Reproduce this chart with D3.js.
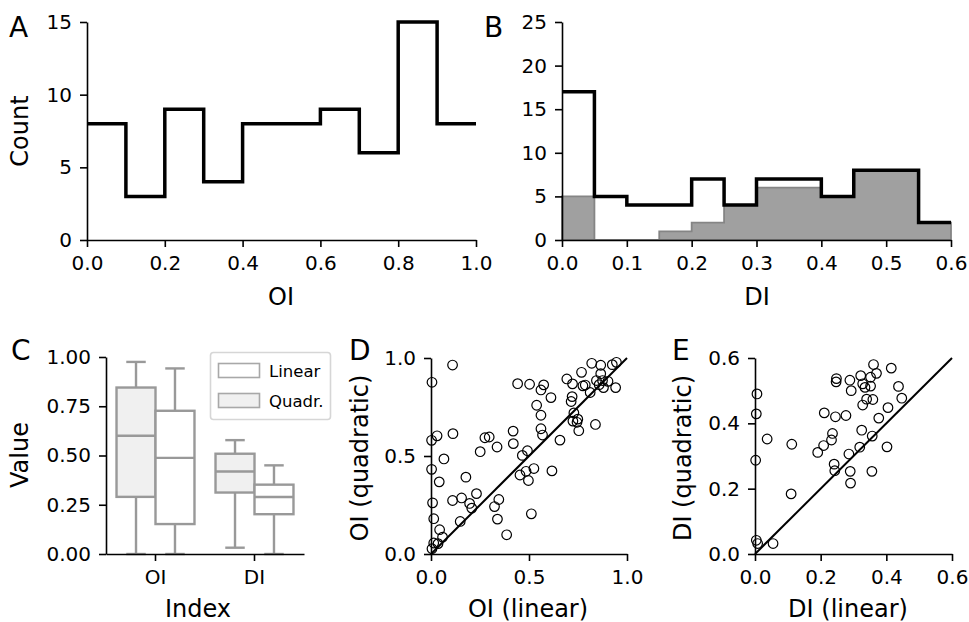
<!DOCTYPE html>
<html>
<head>
<meta charset="utf-8">
<script src="https://cdn.jsdelivr.net/npm/d3@7"></script>
<style>
  body { margin: 0; background: #fff; }
  text { font-family: "DejaVu Sans", sans-serif; fill: #000; }
</style>
</head>
<body>
<svg id="fig" width="969" height="622"></svg>
<script>
// ---- data ----
const oiEdges = [0.0, 0.1, 0.2, 0.3, 0.4, 0.5, 0.6, 0.7, 0.8, 0.9, 1.0];
const oiCounts = [8, 3, 9, 4, 8, 8, 9, 6, 15, 8];

const diEdges = [0.0, 0.05, 0.1, 0.15, 0.2, 0.25, 0.3, 0.35, 0.4, 0.45, 0.5, 0.55, 0.6];
const diCountsAll = [17, 5, 4, 4, 7, 4, 7, 7, 5, 8, 8, 2];
const diCountsQuad = [5, 0, 0, 1, 2, 4, 6, 6, 5, 8, 8, 2];

const indexNames = ["OI", "DI"];
const fitNames = ["Quadr.", "Linear"];
// [index, fit, whiskerLow, q1, median, q3, whiskerHigh]
const boxStats = [
    ["OI", "Quadr.", 0.00, 0.29, 0.60, 0.845, 0.975],
    ["OI", "Linear", 0.00, 0.152, 0.488, 0.727, 0.942],
    ["DI", "Quadr.", 0.032, 0.312, 0.419, 0.509, 0.578],
    ["DI", "Linear", 0.00, 0.202, 0.289, 0.352, 0.450]
];

const oiLinear = [0.110, 0.005, 0.442, 0.503, 0.575, 0.561, 0.612, 0.693, 0.722, 0.768,
    0.820, 0.866, 0.925, 0.946, 0.866, 0.844, 0.775, 0.787, 0.875, 0.903,
    0.880, 0.942, 0.812, 0.858, 0.715, 0.720, 0.539, 0.561, 0.561, 0.569,
    0.658, 0.724, 0.749, 0.745, 0.729, 0.754, 0.839, 0.419, 0.420, 0.492,
    0.466, 0.525, 0.485, 0.454, 0.497, 0.617, 0.512, 0.386, 0.339, 0.324,
    0.346, 0.275, 0.297, 0.337, 0.251, 0.232, 0.197, 0.208, 0.156, 0.110,
    0.178, 0.149, 0.042, 0.066, 0.031, 0.112, 0.003, 0.003, 0.008, 0.014,
    0.044, 0.059, 0.036, 0.014, 0.005];
const oiQuadratic = [0.964, 0.876, 0.869, 0.866, 0.863, 0.837, 0.798, 0.893, 0.868, 0.927,
    0.973, 0.963, 0.966, 0.978, 0.920, 0.885, 0.858, 0.862, 0.885, 0.881,
    0.849, 0.849, 0.824, 0.864, 0.778, 0.803, 0.759, 0.708, 0.639, 0.607,
    0.581, 0.678, 0.688, 0.672, 0.720, 0.629, 0.661, 0.627, 0.563, 0.527,
    0.503, 0.436, 0.422, 0.403, 0.375, 0.424, 0.205, 0.098, 0.178, 0.242,
    0.278, 0.593, 0.597, 0.546, 0.522, 0.308, 0.258, 0.234, 0.286, 0.273,
    0.392, 0.166, 0.368, 0.485, 0.603, 0.614, 0.580, 0.432, 0.261, 0.180,
    0.124, 0.086, 0.053, 0.056, 0.027];

const diLinear = [0.006, 0.004, 0.002, 0.037, 0.112, 0.110, 0.004, 0.008, 0.055, 0.191,
    0.209, 0.211, 0.233, 0.236, 0.245, 0.248, 0.247, 0.241, 0.243, 0.277,
    0.289, 0.293, 0.286, 0.290, 0.291, 0.322, 0.328, 0.335, 0.328, 0.340,
    0.325, 0.319, 0.352, 0.352, 0.361, 0.370, 0.359, 0.357, 0.356, 0.377,
    0.405, 0.402, 0.415, 0.437, 0.447];
const diQuadratic = [0.490, 0.429, 0.287, 0.352, 0.336, 0.184, 0.042, 0.032, 0.032, 0.311,
    0.332, 0.432, 0.349, 0.369, 0.420, 0.537, 0.527, 0.275, 0.255, 0.424,
    0.532, 0.500, 0.306, 0.253, 0.217, 0.546, 0.521, 0.510, 0.456, 0.474,
    0.379, 0.327, 0.541, 0.514, 0.580, 0.553, 0.473, 0.361, 0.253, 0.416,
    0.448, 0.328, 0.569, 0.513, 0.477];

// ---- helpers ----
const svg = d3.select("#fig");
const TICK_FONT = 20, LABEL_FONT = 24, LETTER_FONT = 28;

function styleAxis(g) {
    g.selectAll(".domain").attr("stroke", "#000").attr("stroke-width", 1.6);
    g.selectAll(".tick line").attr("stroke", "#000").attr("stroke-width", 1.6);
    g.selectAll(".tick text").attr("font-size", TICK_FONT).attr("font-family", "DejaVu Sans");
}

function drawAxes(x, y, xTicks, yTicks, xFmt, yFmt) {
    const [x0] = x.range();
    const [y0] = y.range();
    const xa = d3.axisBottom(x).tickSizeInner(7).tickSizeOuter(0).tickPadding(9);
    if (xTicks) xa.tickValues(xTicks);
    if (xFmt) xa.tickFormat(xFmt);
    svg.append("g").attr("transform", `translate(0,${y0})`).call(xa).call(styleAxis);
    const ya = d3.axisLeft(y).tickValues(yTicks).tickSizeInner(7).tickSizeOuter(0).tickPadding(8);
    if (yFmt) ya.tickFormat(yFmt);
    svg.append("g").attr("transform", `translate(${x0},0)`).call(ya).call(styleAxis);
}

function xLabel(text, cx, yb) {
    svg.append("text").attr("x", cx).attr("y", yb).attr("text-anchor", "middle")
        .attr("font-size", LABEL_FONT).text(text);
}
function yLabel(text, cx, cy) {
    svg.append("text").attr("transform", `translate(${cx},${cy}) rotate(-90)`)
        .attr("text-anchor", "middle").attr("dominant-baseline", "central")
        .attr("font-size", LABEL_FONT).text(text);
}
function letter(text, x, yb) {
    svg.append("text").attr("x", x).attr("y", yb).attr("font-size", LETTER_FONT).text(text);
}

function stepPoints(edges, counts) {
    const pts = counts.map((c, i) => [edges[i], c]);
    pts.push([edges[edges.length - 1], counts[counts.length - 1]]);
    return pts;
}

// ---- A: OI histogram ----
{
    const x = d3.scaleLinear().domain([0, 1]).range([87, 476]);
    const y = d3.scaleLinear().domain([0, 15]).range([240, 22]);
    drawAxes(x, y, [0, 0.2, 0.4, 0.6, 0.8, 1.0], [0, 5, 10, 15], d3.format(".1f"), d3.format("d"));
    const line = d3.line().x(d => x(d[0])).y(d => y(d[1])).curve(d3.curveStepAfter);
    svg.append("path").attr("d", line(stepPoints(oiEdges, oiCounts)))
        .attr("fill", "none").attr("stroke", "#000").attr("stroke-width", 3.5);
    yLabel("Count", 20, 131);
    xLabel("OI", 281, 305);
    letter("A", 9, 37);
}

// ---- B: DI histogram ----
{
    const x = d3.scaleLinear().domain([0, 0.6]).range([562, 951]);
    const y = d3.scaleLinear().domain([0, 25]).range([240, 22]);
    const area = d3.area().x(d => x(d[0])).y0(y(0)).y1(d => y(d[1])).curve(d3.curveStepAfter);
    svg.append("path").attr("d", area(stepPoints(diEdges, diCountsQuad)))
        .attr("fill", "#a0a0a0").attr("stroke", "#858585").attr("stroke-width", 1.8);
    const line = d3.line().x(d => x(d[0])).y(d => y(d[1])).curve(d3.curveStepAfter);
    svg.append("path").attr("d", line(stepPoints(diEdges, diCountsAll)))
        .attr("fill", "none").attr("stroke", "#000").attr("stroke-width", 3.5);
    drawAxes(x, y, [0, 0.1, 0.2, 0.3, 0.4, 0.5, 0.6], [0, 5, 10, 15, 20, 25], d3.format(".1f"), d3.format("d"));
    xLabel("DI", 757, 305);
    letter("B", 484, 37);
}

// ---- C: box plots ----
{
    const x = d3.scaleBand().domain(indexNames).range([106, 304]);
    const sub = d3.scaleBand().domain(fitNames).range([0, x.bandwidth()]).paddingOuter(0.27);
    const y = d3.scaleLinear().domain([0, 1]).range([554, 357]);
    const fills = {"Quadr.": "#f0f0f0", "Linear": "#ffffff"};
    const edge = "#999999";
    const g = svg.append("g");
    boxStats.forEach(([idx, fit, lo, q1, med, q3, hi]) => {
        const bx = x(idx) + sub(fit);
        const bw = sub.bandwidth();
        const cx = bx + bw / 2;
        const b = g.append("g").attr("stroke", edge).attr("stroke-width", 2.4);
        b.append("line").attr("x1", cx).attr("x2", cx).attr("y1", y(lo)).attr("y2", y(q1));
        b.append("line").attr("x1", cx).attr("x2", cx).attr("y1", y(q3)).attr("y2", y(hi));
        b.append("line").attr("x1", cx - bw / 4).attr("x2", cx + bw / 4).attr("y1", y(lo)).attr("y2", y(lo));
        b.append("line").attr("x1", cx - bw / 4).attr("x2", cx + bw / 4).attr("y1", y(hi)).attr("y2", y(hi));
        b.append("rect").attr("x", bx).attr("y", y(q3)).attr("width", bw).attr("height", y(q1) - y(q3))
            .attr("fill", fills[fit]);
        b.append("line").attr("x1", bx).attr("x2", bx + bw).attr("y1", y(med)).attr("y2", y(med));
    });
    drawAxes(x, y, null, [0, 0.25, 0.5, 0.75, 1.0], null, d3.format(".2f"));

    // legend
    const lg = svg.append("g");
    lg.append("rect").attr("x", 210.5).attr("y", 352.5).attr("width", 120).attr("height", 67)
        .attr("rx", 3).attr("fill", "#fff").attr("fill-opacity", 0.8)
        .attr("stroke", "#d6d6d6").attr("stroke-width", 1.6);
    ["Linear", "Quadr."].forEach((name, i) => {
        const yy = 363.5 + i * 30;
        lg.append("rect").attr("x", 218.5).attr("y", yy).attr("width", 41).attr("height", 14)
            .attr("fill", fills[name]).attr("stroke", "#a8a8a8").attr("stroke-width", 1.6);
        lg.append("text").attr("x", 269).attr("y", yy + 13.5).attr("font-size", 16.5).text(name);
    });

    yLabel("Value", 20, 455);
    xLabel("Index", 198, 617);
    letter("C", 11, 360);
}

// ---- D: OI scatter ----
{
    const x = d3.scaleLinear().domain([0, 1]).range([431, 627]);
    const y = d3.scaleLinear().domain([0, 1]).range([554, 358]);
    svg.append("line").attr("x1", x(0)).attr("y1", y(0)).attr("x2", x(1)).attr("y2", y(1))
        .attr("stroke", "#000").attr("stroke-width", 2);
    svg.append("g").selectAll("circle").data(oiLinear).join("circle")
        .attr("cx", d => x(d)).attr("cy", (d, i) => y(oiQuadratic[i])).attr("r", 4.8)
        .attr("fill", "none").attr("stroke", "#000").attr("stroke-width", 1.2);
    drawAxes(x, y, [0, 0.5, 1.0], [0, 0.5, 1.0], d3.format(".1f"), d3.format(".1f"));
    yLabel("OI (quadratic)", 360, 458);
    xLabel("OI (linear)", 528, 617);
    letter("D", 349, 360);
}

// ---- E: DI scatter ----
{
    const x = d3.scaleLinear().domain([0, 0.6]).range([755, 952]);
    const y = d3.scaleLinear().domain([0, 0.6]).range([554, 358]);
    svg.append("line").attr("x1", x(0)).attr("y1", y(0)).attr("x2", x(0.6)).attr("y2", y(0.6))
        .attr("stroke", "#000").attr("stroke-width", 2);
    svg.append("g").selectAll("circle").data(diLinear).join("circle")
        .attr("cx", d => x(d)).attr("cy", (d, i) => y(diQuadratic[i])).attr("r", 4.8)
        .attr("fill", "none").attr("stroke", "#000").attr("stroke-width", 1.2);
    drawAxes(x, y, [0, 0.2, 0.4, 0.6], [0, 0.2, 0.4, 0.6], d3.format(".1f"), d3.format(".1f"));
    yLabel("DI (quadratic)", 683, 458);
    xLabel("DI (linear)", 848, 617);
    letter("E", 672, 360);
}
</script>
</body>
</html>
